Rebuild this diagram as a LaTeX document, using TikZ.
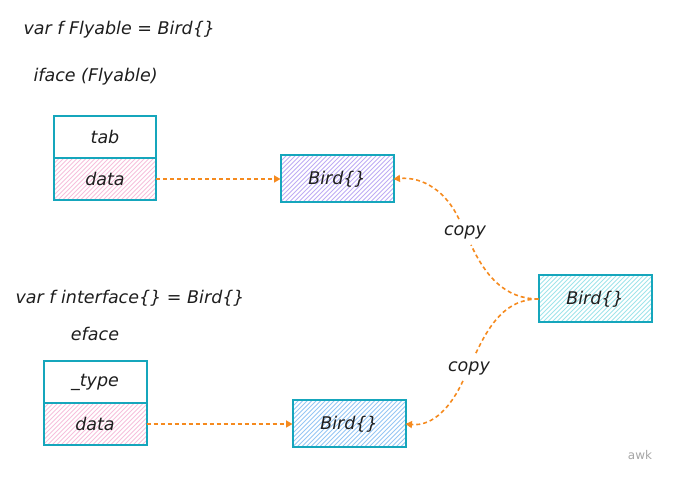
\documentclass[tikz,border=0pt]{standalone}
\usepackage{fontspec}
\setmainfont{DejaVu Sans}
\usetikzlibrary{arrows.meta}
\definecolor{baseteal}{RGB}{21,166,188}
\definecolor{baseorange}{RGB}{245,138,30}
\definecolor{basepink}{RGB}{246,192,220}
\definecolor{basepurple}{RGB}{190,172,244}
\definecolor{basecyan}{RGB}{160,228,234}
\definecolor{baseblue}{RGB}{150,198,244}
\definecolor{baseink}{RGB}{30,30,30}

\begin{document}
\begin{tikzpicture}[x=1pt, y=1pt, font=\itshape\fontsize{17.5}{20}\selectfont, text=baseink]
  \tikzset{
    cell_border/.style={draw=baseteal, line width=2pt},
    plain_cell/.style={
      rectangle, fill=white, outer sep=0pt, minimum width=102pt, minimum height=42pt, inner sep=0pt
    },
    hatch_cell/.style args={#1}{
      plain_cell, fill=none,
      path picture={
        \foreach \k in {-50,-45.5,...,120}
          \draw[#1, line width=0.9pt] ([xshift=\k pt]path picture bounding box.south west) -- ++(60pt,60pt);
      }
    },
    hatch_box/.style args={#1}{
      hatch_cell=#1, minimum width=113pt, minimum height=47pt
    },
    dash_line/.style={baseorange, line width=1.6pt, dash pattern=on 4pt off 3pt},
    dash_arrow/.style={dash_line, -{Triangle[length=6.5pt, width=7pt]}}
  }
  \useasboundingbox (0,0) rectangle (678,481);

  % iface part
  \node[anchor=west] (title_iface) at (20,451) {var f Flyable = Bird\{\}};
  \node[anchor=west] (label_iface) at (30,404) {iface (Flyable)};
  \node[plain_cell] (iface_tab) at (105,344) {tab};
  \node[hatch_cell=basepink, anchor=north] (iface_data) at (iface_tab.south) {data};
  \node[hatch_box=basepurple] (bird_a) at (337,302) {Bird\{\}};

  % eface part
  \node[anchor=west] (title_eface) at (12,183) {var f interface\{\} = Bird\{\}};
  \node (label_eface) at (95,147) {eface};
  \node[plain_cell, minimum width=103pt] (eface_type) at (95,99) {\_type};
  \node[hatch_cell=basepink, minimum width=103pt, anchor=north] (eface_data) at (eface_type.south) {data};
  \node[hatch_box=baseblue] (bird_b) at (349,57) {Bird\{\}};

  % the source value
  \node[hatch_box=basecyan] (bird_src) at (595,182) {Bird\{\}};
  \node[inner sep=6pt] (copy_a) at (465,249) {copy};
  \node[inner sep=6pt] (copy_b) at (469,113) {copy};

  % borders of all boxes on top
  \foreach \n in {iface_tab, iface_data, bird_a, eface_type, eface_data, bird_b, bird_src}
    \draw[cell_border] (\n.south west) rectangle (\n.north east);

  \draw[dash_arrow] (iface_data.east) -- (bird_a.west);
  \draw[dash_arrow] (eface_data.east) -- (bird_b.west);

  \draw[dash_line] (bird_src.west) to[out=180, in=-65] (copy_a);
  \draw[dash_arrow] (copy_a) to[out=115, in=5] (bird_a.east);
  \draw[dash_line] (bird_src.west) to[out=180, in=65] (copy_b);
  \draw[dash_arrow] (copy_b) to[out=-115, in=-5] (bird_b.east);

  % watermark
  \node[text=black!35, font=\upshape\fontsize{12}{14}\selectfont] (mark) at (640,26) {awk};

\end{tikzpicture}
\end{document}
